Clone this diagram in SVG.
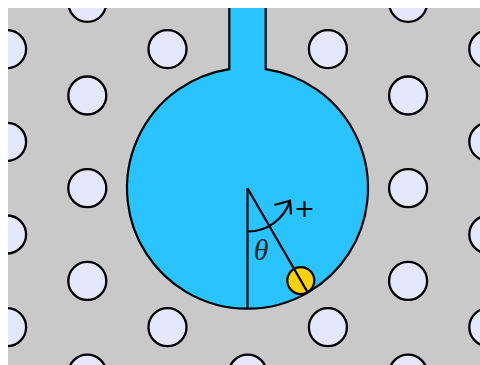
<svg xmlns="http://www.w3.org/2000/svg" width="480" height="365" viewBox="0 0 480 365">
  <defs>
    <clipPath id="area"><rect x="8" y="8" width="472" height="357"/></clipPath>
    <style>
      .post { fill: #e6e6ff; stroke: #000; stroke-width: 2.3; }
      .ln { fill: none; stroke: #000; stroke-width: 2.2; stroke-linecap: butt; }
    </style>
  </defs>
  <rect id="ground" x="8" y="8" width="472" height="357" fill="#c9c9c9"/>
  <g id="posts" clip-path="url(#area)">
    <circle class="post" cx="87.3" cy="2.8" r="19"/>
    <circle class="post" cx="87.3" cy="95.5" r="19"/>
    <circle class="post" cx="87.3" cy="188.2" r="19"/>
    <circle class="post" cx="87.3" cy="280.9" r="19"/>
    <circle class="post" cx="87.3" cy="373.6" r="19"/>
    <circle class="post" cx="7.1" cy="49.1" r="19"/>
    <circle class="post" cx="7.1" cy="141.8" r="19"/>
    <circle class="post" cx="7.1" cy="234.5" r="19"/>
    <circle class="post" cx="7.1" cy="327.2" r="19"/>
    <circle class="post" cx="167.5" cy="49.1" r="19"/>
    <circle class="post" cx="167.5" cy="327.2" r="19"/>
    <circle class="post" cx="247.7" cy="373.6" r="19"/>
    <circle class="post" cx="327.9" cy="49.1" r="19"/>
    <circle class="post" cx="327.9" cy="327.2" r="19"/>
    <circle class="post" cx="408.1" cy="2.8" r="19"/>
    <circle class="post" cx="408.1" cy="95.5" r="19"/>
    <circle class="post" cx="408.1" cy="188.2" r="19"/>
    <circle class="post" cx="408.1" cy="280.9" r="19"/>
    <circle class="post" cx="408.1" cy="373.6" r="19"/>
    <circle class="post" cx="488.3" cy="49.1" r="19"/>
    <circle class="post" cx="488.3" cy="141.8" r="19"/>
    <circle class="post" cx="488.3" cy="234.5" r="19"/>
    <circle class="post" cx="488.3" cy="327.2" r="19"/>
  </g>
  <g id="chamber">
    <path d="M229.3,8 V69.1 A120.5,120.5 0 1 0 265.7,69.1 V8 Z" fill="#29c4ff" stroke="none"/>
    <path d="M229.3,8 V69.1 A120.5,120.5 0 1 0 265.7,69.1 V8" class="ln"/>
  </g>
  <g id="ball">
    <circle cx="300.8" cy="280.6" r="13.5" fill="#ffd200" stroke="#000" stroke-width="2.2"/>
  </g>
  <g id="connectors">
    <line class="ln" x1="247.5" y1="188.2" x2="247.5" y2="308.7"/>
    <line class="ln" x1="247.5" y1="188.2" x2="307.8" y2="292.6"/>
    <path class="ln" d="M247.5,231.5 A44,44 0 0 0 290,200.7"/>
    <path class="ln" d="M274.3,205 L290,200.7 L291,214.3" stroke-linejoin="miter"/>
  </g>
  <g id="labels">
    <text x="261" y="260" font-family="Liberation Serif, serif" font-style="italic" font-size="30" fill="#222" text-anchor="middle">θ</text>
    <text x="304.5" y="216.5" font-family="DejaVu Sans, sans-serif" font-size="25" fill="#000" text-anchor="middle">+</text>
  </g>
</svg>
